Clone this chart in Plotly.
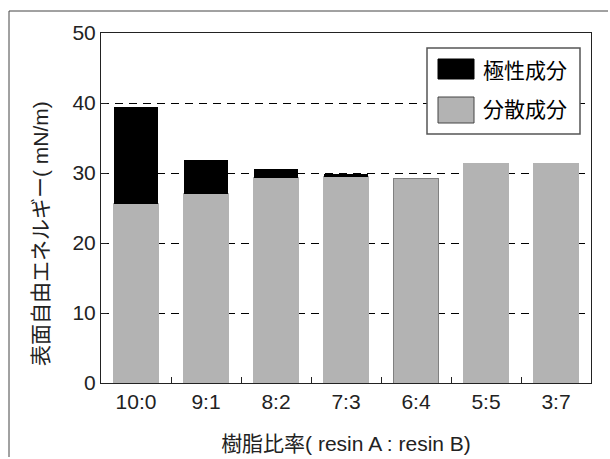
import plotly.graph_objects as go

# Resin blend ratios and surface free energy components (mN/m)
ratios = ["10:0", "9:1", "8:2", "7:3", "6:4", "5:5", "3:7"]
dispersion = [25.6, 27.05, 29.3, 29.55, 29.25, 31.4, 31.4]
polar = [13.8, 4.85, 1.3, 0.25, 0.0, 0.0, 0.0]
y_ticks = [0, 10, 20, 30, 40, 50]

W, H = 610, 459
ML, MR, MT, MB = 101, 19, 33, 76
PW, PH = W - ML - MR, H - MT - MB

FONT = "Liberation Sans, Arial, Noto Sans CJK JP, sans-serif"
GRAY = "#b3b3b3"
FS = 21


def px(x):
    return (x - ML) / PW


def py(y):
    return (H - MB - y) / PH


fig = go.Figure()
fig.add_trace(go.Bar(
    x=ratios, y=dispersion, name="分散成分", width=0.63,
    marker=dict(color=GRAY,
                line=dict(color=[GRAY, GRAY, GRAY, GRAY, "#808080", GRAY, GRAY], width=1)),
    showlegend=False,
))
fig.add_trace(go.Bar(
    x=ratios, y=polar, name="極性成分", width=0.63,
    marker=dict(color="black", line=dict(width=0)),
    showlegend=False,
))

shapes = [
    # outer frame: top and left edges around the figure
    dict(type="line", xref="paper", yref="paper",
         x0=px(9), x1=px(W - 2), y0=py(11), y1=py(11),
         line=dict(color="#444444", width=1), layer="below"),
    dict(type="line", xref="paper", yref="paper",
         x0=px(9), x1=px(9), y0=py(11), y1=py(H - 2),
         line=dict(color="#444444", width=1), layer="below"),
    # legend box
    dict(type="rect", xref="paper", yref="paper",
         x0=px(427), x1=px(580), y0=py(134), y1=py(48),
         fillcolor="white", line=dict(color="#555555", width=1.5), layer="above"),
    dict(type="rect", xref="paper", yref="paper",
         x0=px(438), x1=px(474), y0=py(79), y1=py(59),
         fillcolor="black", line=dict(color="black", width=1), layer="above"),
    dict(type="rect", xref="paper", yref="paper",
         x0=px(438), x1=px(474), y0=py(123), y1=py(97),
         fillcolor=GRAY, line=dict(color="#444444", width=1), layer="above"),
]

annotations = [
    dict(text="極性成分", xref="paper", yref="paper", x=px(481), y=py(71),
         xanchor="left", yanchor="middle", showarrow=False,
         font=dict(size=FS, color="black", family=FONT)),
    dict(text="分散成分", xref="paper", yref="paper", x=px(481), y=py(110),
         xanchor="left", yanchor="middle", showarrow=False,
         font=dict(size=FS, color="black", family=FONT)),
    # y-axis title
    dict(text="表面自由エネルギー( mN/m)", xref="paper", yref="paper",
         x=px(40), y=py(234), xanchor="center", yanchor="middle",
         textangle=-90, showarrow=False,
         font=dict(size=FS, color="#222222", family=FONT)),
]

fig.update_layout(
    width=W, height=H,
    margin=dict(l=ML, r=MR, t=MT, b=MB, autoexpand=False),
    barmode="stack",
    plot_bgcolor="white", paper_bgcolor="white",
    font=dict(family=FONT, size=FS, color="#222222"),
    shapes=shapes,
    annotations=annotations,
    xaxis=dict(
        type="category", range=[-0.5, 6.5],
        showline=True, linecolor="#222222", linewidth=1, mirror=True,
        ticks="inside", ticklen=6, tickcolor="#222222", tickson="boundaries",
        showgrid=False,
        tickfont=dict(size=FS),
        title=dict(text="樹脂比率( resin A : resin B)", font=dict(size=FS), standoff=24),
        automargin=False,
    ),
    yaxis=dict(
        range=[0, 50], tickvals=y_ticks,
        showline=True, linecolor="#222222", linewidth=1, mirror=True,
        ticks="inside", ticklen=6, tickcolor="#222222",
        showgrid=True, gridcolor="black", gridwidth=1, griddash="8px,6px",
        zeroline=False,
        tickfont=dict(size=FS),
        automargin=False,
    ),
)

fig.write_html("out.html")
